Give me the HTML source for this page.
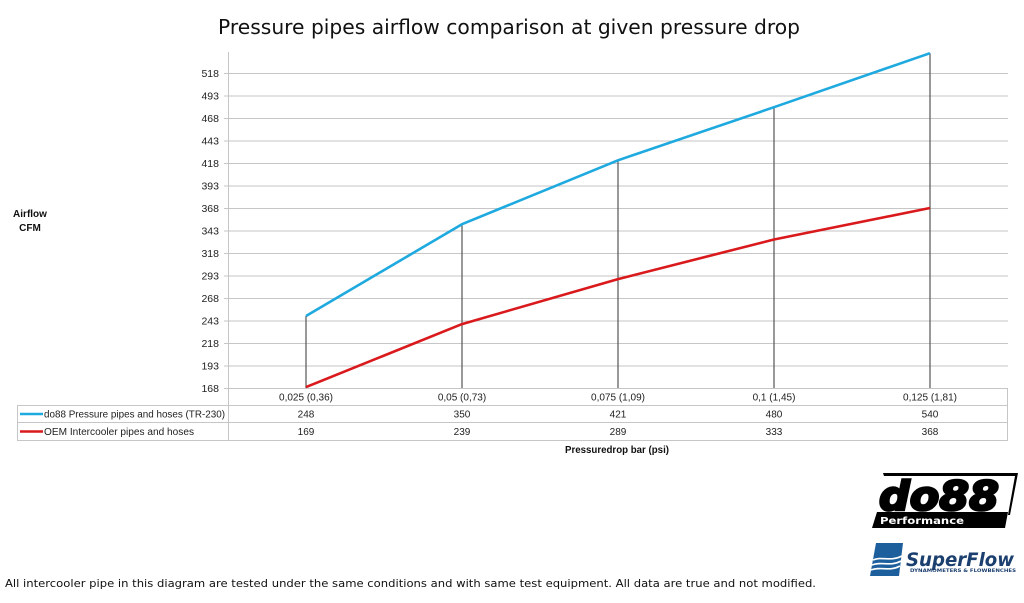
<!DOCTYPE html>
<html><head><meta charset="utf-8"><style>
html,body{margin:0;padding:0;background:#fff;}
svg{display:block;}
</style></head><body>
<svg width="1024" height="603" viewBox="0 0 1024 603" xmlns="http://www.w3.org/2000/svg">
<rect width="1024" height="603" fill="#fff"/>
<!-- Title -->
<text x="218" y="34" font-family="DejaVu Sans, sans-serif" font-size="20" fill="#111" textLength="582" lengthAdjust="spacingAndGlyphs">Pressure pipes airflow comparison at given pressure drop</text>

<!-- gridlines -->
<g stroke="#c6c6c6" stroke-width="1">
<line x1="224" y1="73.5" x2="1008" y2="73.5"/>
<line x1="224" y1="96" x2="1008" y2="96"/>
<line x1="224" y1="118.5" x2="1008" y2="118.5"/>
<line x1="224" y1="141" x2="1008" y2="141"/>
<line x1="224" y1="163.5" x2="1008" y2="163.5"/>
<line x1="224" y1="186" x2="1008" y2="186"/>
<line x1="224" y1="208.5" x2="1008" y2="208.5"/>
<line x1="224" y1="231" x2="1008" y2="231"/>
<line x1="224" y1="253.5" x2="1008" y2="253.5"/>
<line x1="224" y1="276" x2="1008" y2="276"/>
<line x1="224" y1="298.5" x2="1008" y2="298.5"/>
<line x1="224" y1="321" x2="1008" y2="321"/>
<line x1="224" y1="343.5" x2="1008" y2="343.5"/>
<line x1="224" y1="366" x2="1008" y2="366"/>
<line x1="224" y1="388.5" x2="1008" y2="388.5"/>
<!-- axis -->
<line x1="228.5" y1="52" x2="228.5" y2="440"/>
<!-- table -->
<line x1="17" y1="405.5" x2="1008" y2="405.5"/>
<line x1="17" y1="422.5" x2="1008" y2="422.5"/>
<line x1="17" y1="440.5" x2="1008" y2="440.5"/>
<line x1="17.5" y1="405" x2="17.5" y2="440"/>
<line x1="1007.5" y1="388" x2="1007.5" y2="440"/>
</g>

<!-- y labels -->
<g font-family="Liberation Sans, sans-serif" font-size="10.5" fill="#222" text-anchor="end">
<text x="219" y="77">518</text>
<text x="219" y="99.5">493</text>
<text x="219" y="122">468</text>
<text x="219" y="144.5">443</text>
<text x="219" y="167">418</text>
<text x="219" y="189.5">393</text>
<text x="219" y="212">368</text>
<text x="219" y="234.5">343</text>
<text x="219" y="257">318</text>
<text x="219" y="279.5">293</text>
<text x="219" y="302">268</text>
<text x="219" y="324.5">243</text>
<text x="219" y="347">218</text>
<text x="219" y="369.5">193</text>
<text x="219" y="392">168</text>
</g>

<!-- Axis title -->
<g font-family="Liberation Sans, sans-serif" font-size="10" font-weight="bold" fill="#111" text-anchor="middle">
<text x="30" y="217">Airflow</text>
<text x="30" y="231">CFM</text>
<text x="617" y="453" textLength="104" lengthAdjust="spacingAndGlyphs">Pressuredrop bar (psi)</text>
</g>

<!-- drop lines -->
<g stroke="#555" stroke-width="1.2">
<line x1="306" y1="316" x2="306" y2="388"/>
<line x1="462" y1="224.2" x2="462" y2="388"/>
<line x1="618" y1="160.3" x2="618" y2="388"/>
<line x1="774" y1="107.2" x2="774" y2="388"/>
<line x1="930" y1="53.2" x2="930" y2="388"/>
</g>

<!-- series -->
<polyline points="306,316 462,224.2 618,160.3 774,107.2 930,53.2" fill="none" stroke="#1ea9df" stroke-width="2.6" stroke-linejoin="round"/>
<polyline points="306,387.1 462,324.1 618,279.1 774,239.5 930,208" fill="none" stroke="#d9191c" stroke-width="2.6" stroke-linejoin="round"/>

<!-- table text -->
<g font-family="Liberation Sans, sans-serif" font-size="10" fill="#222" text-anchor="middle">
<text x="306" y="400.5">0,025 (0,36)</text>
<text x="462" y="400.5">0,05 (0,73)</text>
<text x="618" y="400.5">0,075 (1,09)</text>
<text x="774" y="400.5">0,1 (1,45)</text>
<text x="930" y="400.5">0,125 (1,81)</text>
<text x="306" y="417.5">248</text>
<text x="462" y="417.5">350</text>
<text x="618" y="417.5">421</text>
<text x="774" y="417.5">480</text>
<text x="930" y="417.5">540</text>
<text x="306" y="435">169</text>
<text x="462" y="435">239</text>
<text x="618" y="435">289</text>
<text x="774" y="435">333</text>
<text x="930" y="435">368</text>
</g>
<line x1="20" y1="414" x2="43" y2="414" stroke="#1ea9df" stroke-width="2.6"/>
<line x1="20" y1="431.5" x2="43" y2="431.5" stroke="#d9191c" stroke-width="2.6"/>
<g font-family="Liberation Sans, sans-serif" font-size="10" fill="#222">
<text x="44" y="417.5" textLength="181" lengthAdjust="spacingAndGlyphs">do88 Pressure pipes and hoses (TR-230)</text>
<text x="44" y="435" textLength="150" lengthAdjust="spacingAndGlyphs">OEM Intercooler pipes and hoses</text>
</g>

<!-- footer -->
<text x="5" y="587" font-family="DejaVu Sans, sans-serif" font-size="11" fill="#111" textLength="811" lengthAdjust="spacingAndGlyphs">All intercooler pipe in this diagram are tested under the same conditions and with same test equipment. All data are true and not modified.</text>

<!-- do88 logo -->
<g>
<polygon points="883,473 1018,473 1010,515 1008,515 1015,476 884,476" fill="#000"/>
<polygon points="877,512 1008,512 1005,528 872,528" fill="#000"/>
<text x="879" y="510" font-family="DejaVu Sans, sans-serif" font-size="40" font-weight="bold" font-style="italic" fill="#000" stroke="#000" stroke-width="2.5" textLength="120" lengthAdjust="spacingAndGlyphs">do88</text>
<text x="880" y="524" font-family="DejaVu Sans, sans-serif" font-size="10" font-weight="bold" fill="#fff" textLength="84" lengthAdjust="spacingAndGlyphs">Performance</text>
</g>

<!-- SuperFlow logo -->
<g>
<polygon points="876,543 903,543 899,576 870,576" fill="#1d5f9c"/>
<path d="M873,560 C882,556 890,562 902,556 M872,565 C882,561 890,567 901,561 M871,570 C881,566 889,572 900,566" stroke="#fff" stroke-width="1.6" fill="none"/>
<text x="906" y="566" font-family="DejaVu Sans, sans-serif" font-size="19" font-weight="bold" font-style="italic" fill="#1b3f6e" textLength="108" lengthAdjust="spacingAndGlyphs">SuperFlow</text>
<text x="910" y="572" font-family="DejaVu Sans, sans-serif" font-size="4" font-weight="bold" fill="#1b3f6e" textLength="106" lengthAdjust="spacingAndGlyphs">DYNAMOMETERS &amp; FLOWBENCHES</text>
</g>
</svg>
</body></html>
